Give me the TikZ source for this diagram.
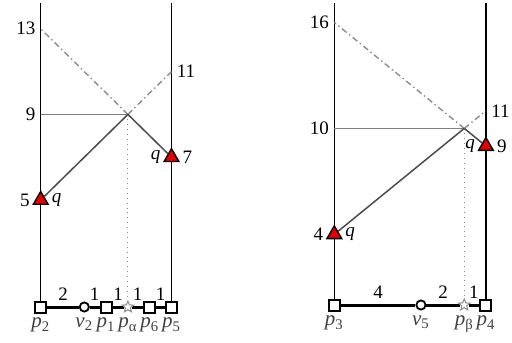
\documentclass[tikz,border=0pt]{standalone}
\usepackage{fontspec}
\setmainfont{Liberation Serif}
\usetikzlibrary{shapes.geometric,backgrounds}

\begin{document}
\begin{tikzpicture}[
  lab/.style={font=\fontsize{9.5}{11}\selectfont, inner sep=2.5pt},
  tag/.style={font=\fontsize{10.5}{12}\selectfont, text=black!75,
    inner sep=2pt, below},
  site/.style={rectangle, draw=black, fill=white, line width=1pt,
    minimum size=5.5pt, inner sep=0pt},
  vtx/.style={circle, draw=black, fill=white, line width=0.9pt,
    minimum size=4.6pt, inner sep=0pt},
  mid/.style={star, star points=5, star point ratio=2.3, draw=black!45,
    fill=white, line width=0.5pt, minimum size=6pt, inner sep=0pt},
  tri/.style={regular polygon, regular polygon sides=3, draw=black,
    fill=red!90!black, line width=0.7pt, minimum size=8.5pt, inner sep=0pt},
  axis/.style={line width=0.6pt, black},
  road/.style={line width=1.5pt, black},
  reach/.style={line width=0.75pt, black!70},
  ext/.style={line width=0.7pt, black!45,
    dash pattern=on 3pt off 1.6pt on 0.7pt off 1.6pt},
  level/.style={line width=0.4pt, black!50},
  drop/.style={line width=0.45pt, black!45, dotted},
]
\useasboundingbox (0pt,0pt) rectangle (256pt,-171pt);

% Left panel.
\begin{scope}[shift={(20.35pt,-153.5pt)}, x=10.9pt, y=10.7pt]
  \coordinate (top2) at (0,14.2);
  \coordinate (top5) at (6,14.2);
  \coordinate (ma) at (4,9);
  \coordinate (a13) at (0,13);
  \coordinate (a11) at (6,11);
  \coordinate (a9) at (0,9);

  % Road.
  \node[site] (p2) at (0,0) {};
  \node[vtx] (v2) at (2,0) {};
  \node[site] (p1) at (3,0) {};
  \node[mid] (pa) at (4,0) {};
  \node[site] (p6) at (5,0) {};
  \node[site] (p5) at (6,0) {};

  % Start points.
  \node[tri, label={[lab]left:5}, label={[lab]right:\textit{q}}] (q2) at (0,5) {};
  \node[tri, label={[lab]left:\textit{q}}, label={[lab]right:7}] (q5) at (6,7) {};

  \node[lab, left] (l13) at (a13) {13};
  \node[lab, left] (l9) at (a9) {9};
  \node[lab, right] (l11) at (a11) {11};

  \node[tag] (n2) at (p2.south) {\textit{p}\textsubscript{2}};
  \node[tag] (nv2) at (v2.south |- p2.south) {\textit{v}\textsubscript{2}};
  \node[tag] (n1) at (p1.south) {\textit{p}\textsubscript{1}};
  \node[tag] (na) at (pa.south |- p2.south) {\textit{p}\textsubscript{α}};
  \node[tag] (n6) at (p6.south) {\textit{p}\textsubscript{6}};
  \node[tag] (n5) at (p5.south) {\textit{p}\textsubscript{5}};

  \begin{scope}[on background layer]
    \draw[axis] (p2) -- (top2);
    \draw[axis] (p5) -- (top5);
    \draw[level] (a9) -- (ma);
    \draw[ext] (ma) -- (a13);
    \draw[ext] (ma) -- (a11);
    \draw[drop] (ma) -- (pa);
    \draw[reach] (q2) -- (ma);
    \draw[reach] (q5) -- (ma);
    \draw[road] (p2) -- node[lab, above] {2} (v2)
      -- node[lab, above] {1} (p1) -- node[lab, above] {1} (pa)
      -- node[lab, above] {1} (p6) -- node[lab, above] {1} (p5);
  \end{scope}
\end{scope}

% Right panel.
\begin{scope}[shift={(167.15pt,-152.5pt)}, x=10.83pt, y=8.83pt]
  \coordinate (top3) at (0,17.1);
  \coordinate (top4) at (7,17.1);
  \coordinate (mb) at (6,10);
  \coordinate (b16) at (0,16);
  \coordinate (b11) at (7,11);
  \coordinate (b10) at (0,10);

  % Road.
  \node[site] (p3) at (0,0) {};
  \node[vtx] (v5) at (4,0) {};
  \node[mid] (pb) at (6,0) {};
  \node[site] (p4) at (7,0) {};

  % Start points.
  \node[tri, label={[lab]left:4}, label={[lab]right:\textit{q}}] (q3) at (0,4) {};
  \node[tri, label={[lab]left:\textit{q}}, label={[lab]right:9}] (q4) at (7,9) {};

  \node[lab, left] (l16) at (b16) {16};
  \node[lab, left] (l10) at (b10) {10};
  \node[lab, right] (l11b) at (b11) {11};

  \node[tag] (n3) at (p3.south) {\textit{p}\textsubscript{3}};
  \node[tag] (nv5) at (v5.south |- p3.south) {\textit{v}\textsubscript{5}};
  \node[tag] (nb) at (pb.south |- p3.south) {\textit{p}\textsubscript{β}};
  \node[tag] (n4) at (p4.south) {\textit{p}\textsubscript{4}};

  \begin{scope}[on background layer]
    \draw[axis] (p3) -- (top3);
    \draw[axis] (p4) -- (top4);
    \draw[level] (b10) -- (mb);
    \draw[ext] (mb) -- (b16);
    \draw[ext] (mb) -- (b11);
    \draw[drop] (mb) -- (pb);
    \draw[reach] (q3) -- (mb);
    \draw[reach] (q4) -- (mb);
    \draw[road] (p3) -- node[lab, above] {4} (v5)
      -- node[lab, above] {2} (pb) -- node[lab, above] {1} (p4);
  \end{scope}
\end{scope}

\end{tikzpicture}
\end{document}
